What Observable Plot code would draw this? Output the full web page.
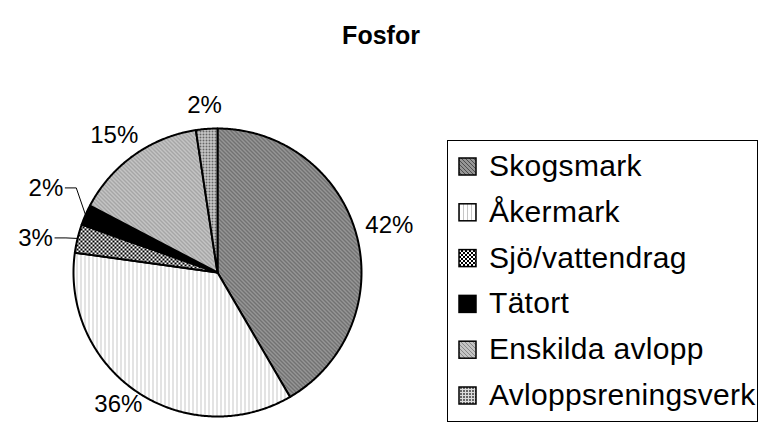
<!DOCTYPE html>
<html>
<head>
<meta charset="utf-8">
<script src="https://cdn.jsdelivr.net/npm/d3@7"></script>
<script src="https://cdn.jsdelivr.net/npm/@observablehq/plot@0.6"></script>
<style>
  html, body { margin: 0; padding: 0; background: #fff; }
  body { font-family: "Liberation Sans", Arial, sans-serif; }
  #wrap { position: relative; width: 763px; height: 432px; overflow: hidden; background: #fff; }
  #defs { position: absolute; width: 0; height: 0; }
  #chart { position: absolute; left: 0; top: 0; }
  #title { position: absolute; left: 0; top: 0; }
  #legend { position: absolute; left: 447px; top: 140px; }
</style>
</head>
<body>
<div id="wrap">
  <svg id="defs" width="0" height="0"></svg>
  <div id="chart"></div>
  <svg id="title" width="763" height="60"></svg>
  <svg id="legend" width="312" height="284"></svg>
</div>
<script>
// ---- data ----
const title = "Fosfor";
const categories = ["Skogsmark", "Åkermark", "Sjö/vattendrag", "Tätort", "Enskilda avlopp", "Avloppsreningsverk"];
const values = [41.6, 35.6, 3.2, 2.3, 14.9, 2.4];
const patternIds = ["p-skog", "p-aker", "p-sjo", "p-tatort", "p-ensk", "p-avl"];

// ---- patterns ----
const defs = d3.select("#defs").append("defs");
function pattern(id, w, h, bg, pixels) {
  const p = defs.append("pattern").attr("id", id).attr("patternUnits", "userSpaceOnUse")
    .attr("width", w).attr("height", h);
  p.append("rect").attr("width", w).attr("height", h).attr("fill", bg).attr("shape-rendering", "crispEdges");
  for (const [x, y, pw, ph, c] of pixels) {
    p.append("rect").attr("x", x).attr("y", y).attr("width", pw).attr("height", ph).attr("fill", c).attr("shape-rendering", "crispEdges");
  }
}
pattern("p-skog", 4, 4, "#969696", [[0,0,1,1,"#4e4e4e"],[1,1,1,1,"#4e4e4e"],[2,2,1,1,"#4e4e4e"],[3,3,1,1,"#4e4e4e"]]);
pattern("p-aker", 4, 4, "#ffffff", [[0,0,1,4,"#c6c6c6"]]);
pattern("p-sjo", 4, 4, "#ffffff", [[0,0,2,2,"#000000"],[2,2,2,2,"#000000"]]);
pattern("p-tatort", 4, 4, "#000000", []);
pattern("p-ensk", 4, 4, "#c4c4c4", [[0,0,1,1,"#888888"],[1,1,1,1,"#888888"],[2,2,1,1,"#888888"],[3,3,1,1,"#888888"]]);
pattern("p-avl", 3, 3, "#666666", [[0,0,3,1,"#dcdcdc"],[0,0,1,3,"#dcdcdc"]]);

// ---- geometry ----
const W = 763, H = 432, cx = 217, cy = 272, R = 144;
const total = d3.sum(values);
const arcs = d3.pie().sort(null).startAngle(0).endAngle(2 * Math.PI)(values);

const slicePts = [];
arcs.forEach((a, i) => {
  const name = categories[i], pat = `url(#${patternIds[i]})`;
  slicePts.push({name, pat, x: 0, y: 0});
  const n = Math.max(2, Math.ceil((a.endAngle - a.startAngle) / (Math.PI / 360)));
  for (let k = 0; k <= n; k++) {
    const t = a.startAngle + (a.endAngle - a.startAngle) * k / n;
    slicePts.push({name, pat, x: Math.sin(t), y: Math.cos(t)});
  }
  slicePts.push({name, pat, x: 0, y: 0});
});

// label placement
const ctx = document.createElement("canvas").getContext("2d");
ctx.font = '24px "Liberation Sans", Arial, sans-serif';
const toU = (px, py) => ({x: (px - cx) / R, y: (cy - py) / R});
const labels = [], small = [];
arcs.forEach((a, i) => {
  const text = Math.round(values[i] / total * 100) + "%";
  const w = ctx.measureText(text).width, h = 20;
  const m = (a.startAngle + a.endAngle) / 2, s = Math.sin(m), c = Math.cos(m);
  if (values[i] / total >= 0.05 || Math.abs(s) < 0.7) {
    const pad = 10;
    const px = cx + (R + pad) * s + s * w / 2;
    const py = cy - (R + pad) * c - c * h / 2 - 4;
    labels.push({text, ...toU(px, py)});
  } else {
    small.push({i, text, w, s, c, px: cx + 1.3 * R * s, py: cy - 1.3 * R * c});
  }
});
// spread crowded small labels vertically
small.sort((a, b) => a.py - b.py);
const minGap = 50;
if (small.length > 1) {
  const mean = d3.mean(small, d => d.py);
  const start = mean - minGap * (small.length - 1) / 2;
  small.forEach((d, k) => { d.py = start + k * minGap; });
}
const leaderPts = [];
small.forEach(d => {
  labels.push({text: d.text, ...toU(d.px, d.py)});
  const right = d.px + d.w / 2;
  leaderPts.push({name: d.text + d.i, ...toU(right + 2, d.py)});
  leaderPts.push({name: d.text + d.i, ...toU(right + 13, d.py)});
  leaderPts.push({name: d.text + d.i, x: d.s, y: d.c});
});

// ---- plot ----
const chart = Plot.plot({
  width: W, height: H, margin: 0,
  x: {domain: [-1, 1], range: [cx - R, cx + R], axis: null},
  y: {domain: [-1, 1], range: [cy + R, cy - R], axis: null},
  color: {type: "identity"},
  style: {background: "transparent", fontFamily: '"Liberation Sans", Arial, sans-serif', overflow: "visible"},
  marks: [
    Plot.line(slicePts, {x: "x", y: "y", z: "name", fill: "pat", stroke: "black", strokeWidth: 2, strokeLinejoin: "round", curve: "linear"}),
    Plot.line(leaderPts, {x: "x", y: "y", z: "name", stroke: "black", strokeWidth: 1, curve: "linear"}),
    Plot.text(labels, {x: "x", y: "y", text: "text", fontSize: 24, fill: "black", textAnchor: "middle", lineAnchor: "middle"})
  ]
});
document.getElementById("chart").appendChild(chart);

// ---- title ----
d3.select("#title").append("text").attr("x", 381).attr("y", 44).attr("text-anchor", "middle")
  .attr("font-family", '"Liberation Sans", Arial, sans-serif').attr("font-weight", "bold").attr("font-size", 25)
  .text(title);

// ---- legend ----
const lg = d3.select("#legend");
lg.append("rect").attr("x", 0.5).attr("y", 0.5).attr("width", 310).attr("height", 281)
  .attr("fill", "white").attr("stroke", "#000").attr("stroke-width", 1);
categories.forEach((name, i) => {
  const yc = 26 + i * 45.8;
  lg.append("rect").attr("x", 12).attr("y", yc - 8).attr("width", 17).attr("height", 17)
    .attr("fill", `url(#${patternIds[i]})`).attr("stroke", "#000").attr("stroke-width", 1.5);
  lg.append("text").attr("x", 42).attr("y", yc + 10)
    .attr("font-family", '"Liberation Sans", Arial, sans-serif').attr("font-size", 30).attr("fill", "#000")
    .attr("letter-spacing", 0.3)
    .text(name);
});
</script>
</body>
</html>
